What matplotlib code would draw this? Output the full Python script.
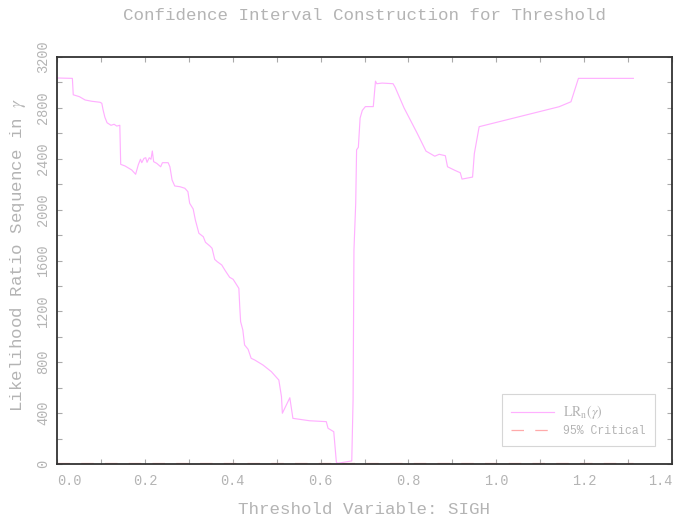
import matplotlib
matplotlib.use("Agg")
import matplotlib.pyplot as plt
from matplotlib.ticker import MultipleLocator, FixedLocator

# ---- data ----
gamma = [0.000, 0.035, 0.037, 0.051, 0.064, 0.079, 0.098, 0.102, 0.105, 0.109,
         0.114, 0.123, 0.130, 0.136, 0.143, 0.145, 0.155, 0.170, 0.179, 0.185,
         0.190, 0.193, 0.198, 0.202, 0.205, 0.210, 0.214, 0.217, 0.220, 0.227,
         0.236, 0.240, 0.253, 0.257, 0.262, 0.268, 0.280, 0.291, 0.298, 0.302,
         0.310, 0.315, 0.323, 0.333, 0.338, 0.348, 0.353, 0.359, 0.365, 0.375,
         0.383, 0.393, 0.401, 0.414, 0.416, 0.418, 0.423, 0.427, 0.435, 0.442,
         0.450, 0.469, 0.488, 0.505, 0.511, 0.513, 0.530, 0.537, 0.575, 0.613,
         0.617, 0.630, 0.636, 0.639, 0.671, 0.674, 0.676, 0.680, 0.682, 0.686,
         0.690, 0.695, 0.702, 0.720, 0.725, 0.728, 0.740, 0.765, 0.770, 0.790,
         0.805, 0.820, 0.830, 0.840, 0.850, 0.860, 0.870, 0.884, 0.889, 0.905,
         0.918, 0.922, 0.946, 0.950, 0.961, 1.143, 1.170, 1.187, 1.312]
lr = [3035, 3032, 2903, 2888, 2862, 2852, 2844, 2836, 2783, 2726,
      2683, 2663, 2671, 2657, 2663, 2356, 2343, 2312, 2278, 2352,
      2396, 2369, 2403, 2408, 2372, 2408, 2396, 2461, 2377, 2364,
      2337, 2369, 2369, 2337, 2233, 2186, 2180, 2168, 2141, 2050,
      2005, 1918, 1814, 1787, 1743, 1714, 1696, 1609, 1590, 1565,
      1520, 1468, 1452, 1381, 1237, 1119, 1054, 936, 902, 831,
      818, 778, 726, 660, 529, 399, 521, 359, 340, 333,
      281, 254, 13, 6, 24, 503, 1682, 2050, 2470, 2490,
      2720, 2780, 2810, 2810, 3010, 2990, 2995, 2990, 2960, 2800,
      2700, 2600, 2530, 2460, 2440, 2420, 2435, 2424, 2337, 2310,
      2290, 2240, 2256, 2440, 2652, 2809, 2848, 3032, 3032]
crit_value = 7.35
x_ticks = [0.0, 0.2, 0.4, 0.6, 0.8, 1.0, 1.2, 1.4]
x_ticklabels = ["0.0", "0.2", "0.4", "0.6", "0.8", "1.0", "1.2", "1.4"]
y_ticks = [0, 400, 800, 1200, 1600, 2000, 2400, 2800, 3200]
y_ticklabels = ["0", "400", "800", "1200", "1600", "2000", "2400", "2800", "3200"]

FONT = "Liberation Mono"
TXT = "#b4b4b4"
plt.rcParams["font.family"] = [FONT, "DejaVu Sans"]
plt.rcParams["mathtext.fontset"] = "stix"

fig = plt.figure(figsize=(6.82, 5.19), dpi=100)
ax = fig.add_axes([57/682, 55/519, 615/682, 407/519])

ax.plot(gamma, lr, color="#ffb0ff", lw=0.85, label=r"$\mathrm{LR_n}(\gamma)$")
ax.plot([gamma[0], gamma[-1]], [crit_value, crit_value], color="#ffaaaa",
        lw=0.9, linestyle=(0, (10, 9)), label="95% Critical")

ax.set_xlim(0, 1.4)
ax.set_ylim(0, 3200)
ax.xaxis.set_major_locator(FixedLocator(x_ticks))
ax.xaxis.set_minor_locator(MultipleLocator(0.1))
ax.yaxis.set_major_locator(FixedLocator(y_ticks))
ax.yaxis.set_minor_locator(MultipleLocator(200))
ax.set_xticklabels(x_ticklabels)
ax.set_yticklabels(y_ticklabels, rotation=90, va="center")
ax.tick_params(which="both", direction="in", top=True, right=True,
               length=3.5, width=0.8, color="#aaaaaa", labelcolor=TXT)
ax.tick_params(axis="x", labelsize=9.8, pad=7)
ax.tick_params(axis="y", labelsize=9.8, pad=5)
xl = ax.get_xticklabels()
xl[0].set_ha("left")
xl[-1].set_ha("right")
for sp in ax.spines.values():
    sp.set_color("#333333")
    sp.set_linewidth(1.3)

fig.text(364.5/682, 1 - 15/519, "Confidence Interval Construction for Threshold",
         ha="center", va="center", fontsize=12.6, color=TXT)
fig.text(364.5/682, 1 - 509/519, "Threshold Variable: SIGH",
         ha="center", va="center", fontsize=12.6, color=TXT)
fig.text(18/682, 1 - 255/519, r"Likelihood Ratio Sequence in $\gamma$",
         ha="center", va="center", rotation=90, fontsize=12.6, color=TXT)

leg = ax.legend(loc="lower right", bbox_to_anchor=(655/682, 73/519),
                bbox_transform=fig.transFigure, fontsize=8.3,
                frameon=True, fancybox=False, handlelength=3.7,
                borderpad=0.8, borderaxespad=0, labelspacing=0.35)
leg.get_frame().set_edgecolor("#cccccc")
leg.get_frame().set_linewidth(0.8)
for t in leg.get_texts():
    t.set_color(TXT)
leg.get_texts()[0].set_fontsize(10)

fig.savefig("out.png", dpi=100)
